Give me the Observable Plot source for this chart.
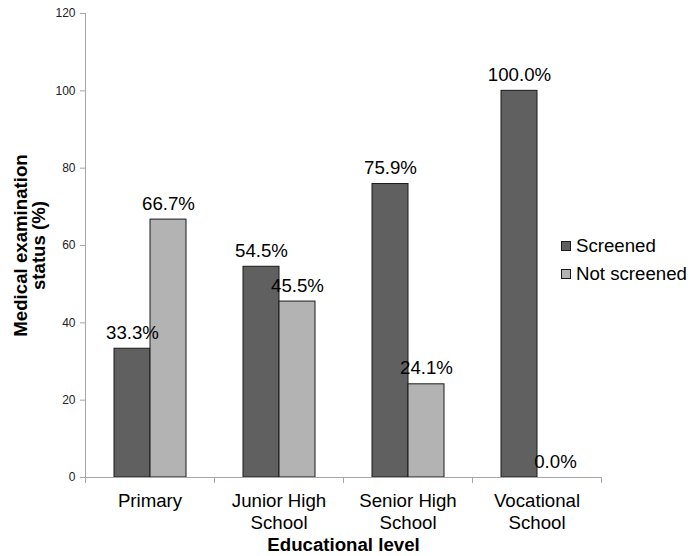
<!DOCTYPE html>
<html>
<head>
<meta charset="utf-8">
<script src="https://cdn.jsdelivr.net/npm/d3@7"></script>
<script src="https://cdn.jsdelivr.net/npm/@observablehq/plot@0.6"></script>
<style>
  html, body { margin: 0; padding: 0; background: #fff; }
  #wrap { position: relative; width: 690px; height: 556px; font-family: "Liberation Sans", Arial, sans-serif; }
  #legend { position: absolute; left: 561px; top: 232px; font-size: 18.67px; color: #000; }
  #legend .item { display: flex; align-items: center; height: 28px; line-height: 28px; white-space: nowrap; }
  #legend .sw { width: 8px; height: 8px; border: 1px solid #1a1a1a; margin-right: 5px; }
  g[aria-label="fx-axis label"] text, g[aria-label="y-axis label"] text { font-weight: bold; }
</style>
</head>
<body>
<div id="wrap"></div>
<script>
const categories = ["Primary", "Junior High School", "Senior High School", "Vocational School"];
const categoryTickLabels = ["Primary", "Junior High\nSchool", "Senior High\nSchool", "Vocational\nSchool"];
const seriesNames = ["Screened", "Not screened"];
const screened = [33.3, 54.5, 75.9, 100.0];
const notScreened = [66.7, 45.5, 24.1, 0.0];
const yTicks = [0, 20, 40, 60, 80, 100, 120];
const seriesColors = ["#606060", "#b3b3b3"];
const xTitle = "Educational level";
const yTitle = "Medical examination\nstatus (%)";

const data = categories.flatMap((c, i) => [
  {cat: c, series: seriesNames[0], value: screened[i]},
  {cat: c, series: seriesNames[1], value: notScreened[i]}
]);

const axisColor = "#a6a6a6";

const chart = Plot.plot({
  width: 690,
  height: 556,
  marginLeft: 83,
  marginRight: 88,
  marginTop: 13,
  marginBottom: 79,
  style: {fontFamily: "'Liberation Sans', Arial, sans-serif", fontSize: "18.67px", color: "#000", background: "#fff"},
  fx: {domain: categories, padding: 0},
  x: {domain: seriesNames, paddingInner: 0, paddingOuter: 0.757, axis: null},
  y: {domain: [0, 120]},
  color: {domain: seriesNames, range: seriesColors},
  marks: [
    Plot.axisY({ticks: yTicks, tickSize: 5, tickPadding: 5, fontSize: 12, stroke: axisColor, fill: "#222", label: null}),
    Plot.axisY({ticks: [], tickSize: 0, label: yTitle, labelArrow: "none", labelAnchor: "center", labelOffset: 72, lineHeight: 1.18}),
    Plot.axisFx({anchor: "bottom", tickSize: 0, tickPadding: 14, lineHeight: 1.18,
      tickFormat: d => categoryTickLabels[categories.indexOf(d)], label: null}),
    Plot.axisFx({anchor: "bottom", ticks: [], tickSize: 0, label: xTitle, labelArrow: "none", labelAnchor: "center", labelOffset: 73}),
    Plot.barY(data, {fx: "cat", x: "series", y: "value", fill: "series", stroke: "#1a1a1a", strokeWidth: 1, filter: d => d.value > 0}),
    Plot.text(data, {fx: "cat", x: "series", y: "value", text: d => d3.format(".1f")(d.value) + "%", dy: -10, lineAnchor: "bottom", fill: "#000"}),
    Plot.ruleY([0], {stroke: axisColor}),
    Plot.frame({anchor: "left", stroke: axisColor, insetTop: 464, insetBottom: -5}),
    Plot.frame({anchor: "right", stroke: axisColor, insetTop: 464, insetBottom: -5}),
    Plot.frame({anchor: "left", stroke: axisColor, fx: categories[0]})
  ]
});

const wrap = document.getElementById("wrap");
wrap.appendChild(chart);

const legend = document.createElement("div");
legend.id = "legend";
seriesNames.forEach((s, i) => {
  const item = document.createElement("div");
  item.className = "item";
  const sw = document.createElement("span");
  sw.className = "sw";
  sw.style.background = seriesColors[i];
  const t = document.createElement("span");
  t.textContent = s;
  item.appendChild(sw);
  item.appendChild(t);
  legend.appendChild(item);
});
wrap.appendChild(legend);
</script>
</body>
</html>
